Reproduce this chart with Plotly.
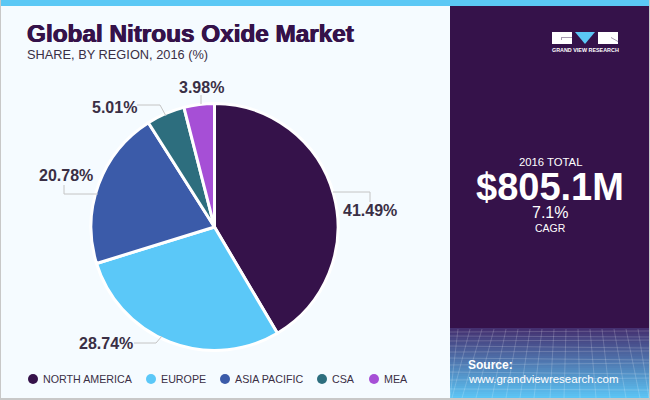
import plotly.graph_objects as go

regions = ['NORTH AMERICA', 'EUROPE', 'ASIA PACIFIC', 'CSA', 'MEA']
shares = [41.49, 28.74, 20.78, 5.01, 3.98]
colors = ['#35124A', '#5BC8F8', '#3B5BA9', '#2D6E7E', '#A64FD6']

W, H = 650, 400

# label spots and legend spots, in pixels of the picture
label_xy = [(369.5, 210), (105.5, 343), (66, 176), (114, 107), (201, 87)]
leaders = [
    [(333, 192), (370, 192), (370, 202)],
    [(134, 343), (156, 343), (162, 336)],
    [(64, 185), (64, 194), (98, 194)],
    [(137, 105), (160, 105), (166, 116)],
    [(201, 95), (201, 104)],
]
legend_x = [33, 151, 225, 322, 374]
legend_y = 379


def fx(x):
    return x / W


def fy(y):
    return 1 - y / H


def rect(x0, y0, x1, y1, color, **kw):
    return dict(type='rect', xref='paper', yref='paper', x0=fx(x0), x1=fx(x1),
                y0=fy(y0), y1=fy(y1), fillcolor=color, line_width=0, layer='below', **kw)


def text(x, y, s, size, color, anchor='center', family='Liberation Sans', **font_kw):
    # annotations carry 2px of padding, take it back on left aligned ones
    shift = -2 if anchor == 'left' else 0
    return dict(x=fx(x), y=fy(y), xref='paper', yref='paper', text=s, showarrow=False,
                xanchor=anchor, yanchor='middle', xshift=shift,
                font=dict(size=size, color=color, family=family, **font_kw))


def mix(a, b, t):
    return 'rgb(%d,%d,%d)' % tuple(a[i] + (b[i] - a[i]) * t for i in range(3))


def mesh(x0, y0, x1, y1):
    return dict(type='line', xref='paper', yref='paper', x0=fx(x0), x1=fx(x1), y0=fy(y0), y1=fy(y1),
                line=dict(color='rgba(255,255,255,0.18)', width=1), layer='below')


shapes = [
    rect(0, 0, 650, 400, '#C8C8C8'),
    rect(1, 0, 450, 398, '#F5FBFF'),
    rect(450, 0, 649, 398, '#35124A'),
    rect(1, 0, 649, 6, '#5BC8F5'),
]

# purple panel fades to blue at the bottom
for y in range(328, 398, 2):
    t = (y - 328) / 68
    shapes.append(rect(450, y, 649, y + 2, mix((68, 48, 112), (92, 196, 244), t)))

# mesh over the gradient
for x0, x1 in [(458, 450), (470, 452), (482, 462), (494, 476), (506, 492), (518, 506), (530, 520),
               (542, 534), (554, 550), (566, 564), (578, 580), (590, 596), (602, 610), (614, 626),
               (626, 640), (638, 649)]:
    shapes.append(mesh(x0, 329, x1, 398))
for y0, y1 in [(332, 331), (336, 337), (341, 340), (346, 348), (352, 351), (358, 360), (365, 363),
               (372, 374), (380, 378), (389, 390)]:
    shapes.append(mesh(450, y0, 649, y1))

# logo
shapes.append(rect(552, 32, 572, 44, '#FFFFFF'))
shapes.append(rect(598, 32, 618, 44, '#FFFFFF'))
shapes.append(rect(561, 37, 572, 38, '#A79BB0'))
shapes.append(rect(561, 37, 562, 40, '#A79BB0'))
shapes.append(dict(type='path', xref='paper', yref='paper', line_width=0, fillcolor='#5BC8F5',
                   path='M %f %f L %f %f L %f %f Z' % (fx(575), fy(32), fx(595), fy(32), fx(585), fy(44))))
shapes.append(dict(type='line', xref='paper', yref='paper', x0=fx(611), x1=fx(618), y0=fy(37.5), y1=fy(41.5),
                   line=dict(color='#A79BB0', width=1)))

# leader lines
for pts in leaders:
    for a, b in zip(pts, pts[1:]):
        shapes.append(dict(type='line', xref='paper', yref='paper', x0=fx(a[0]), y0=fy(a[1]),
                           x1=fx(b[0]), y1=fy(b[1]), line=dict(color='#C4C4C4', width=1)))

# legend dots
for x, c in zip(legend_x, colors):
    shapes.append(dict(type='circle', xref='paper', yref='paper', x0=fx(x - 5), x1=fx(x + 5),
                       y0=fy(legend_y - 5), y1=fy(legend_y + 5), fillcolor=c, line_width=0))

annotations = [
    text(27, 34, '<b>Global Nitrous Oxide Market</b>', 24.3, '#35124A', 'left',
         shadow='0.6px 0 0 #35124A, -0.4px 0 0 #35124A'),
    text(27, 55, 'SHARE, BY REGION, 2016 (%)', 12.8, '#3A2F45', 'left'),
    text(550, 162, '2016 TOTAL', 11.3, '#FFFFFF'),
    text(550, 187, '<b>$805.1M</b>', 38, '#FFFFFF'),
    text(550, 212, '7.1%', 16, '#FFFFFF'),
    text(550, 228, 'CAGR', 10.5, '#FFFFFF'),
    text(468, 365, '<b>Source:</b>', 12, '#FFFFFF', 'left'),
    text(468, 379, 'www.grandviewresearch.com', 11.5, '#FFFFFF', 'left'),
    text(585, 50, '<b>GRAND VIEW RESEARCH</b>', 5.4, '#FFFFFF'),
]
for (x, y), v in zip(label_xy, shares):
    annotations.append(text(x, y, '<b>%.2f%%</b>' % v, 16, '#3A2F45'))
for x, name in zip(legend_x, regions):
    annotations.append(text(x + 10, legend_y, name, 10.7, '#3A2F45', 'left'))

fig = go.Figure(go.Pie(
    labels=regions,
    values=shares,
    sort=False,
    direction='clockwise',
    rotation=0,
    textinfo='none',
    hoverinfo='label+percent',
    marker=dict(colors=colors, line=dict(color='#FFFFFF', width=3)),
    domain=dict(x=[fx(91), fx(338)], y=[fy(351), fy(103)]),
))

fig.update_layout(
    width=W, height=H,
    margin=dict(l=0, r=0, t=0, b=0),
    showlegend=False,
    paper_bgcolor='#F5FBFF',
    shapes=shapes,
    annotations=annotations,
)

fig.write_html("out.html", config=dict(displayModeBar=False),
               post_script="document.body.style.margin='0';")
